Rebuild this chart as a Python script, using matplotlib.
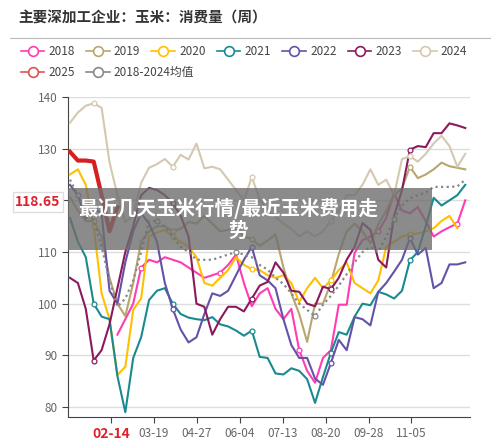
import numpy as np
import matplotlib
matplotlib.use("Agg")
import matplotlib.pyplot as plt
from matplotlib.lines import Line2D
from matplotlib.patches import Rectangle

plt.rcParams['font.family'] = ['Noto Sans CJK SC', 'DejaVu Sans']

s2018 = [94,97,100,107,108.5,108,109,108.5,108,107,106,105,105.5,106,107.5,109.5,104,99.5,102,103,99,97,99,91,87,84.7,89.5,91,99.8,99.8,109.8,112.3,113,114,116.6,121.4,118,117.5,118.7,116,113,114,114.8,115.5,120]
s2018_start = 6
s2019 = [120.6,118,116,116,113,105,100,97.6,104,112,114,115,115,114,114.5,115.8,115.5,117,115.5,114,114.3,114.6,113,112.5,111.2,112.2,113.4,107,102,98,92.6,100,100,104,109.6,114,115.5,114,111.7,115.4,118,121,122.3,126.5,124.3,125,126,127.3,126.6,126.3,126]
s2020 = [125,126,123,115,102,97,86.2,87.8,98.8,101,113,113.8,114.3,113,112,111,109,104,103.5,105,106.5,109,107.5,106.7,106.5,105.5,105,105.5,104,100.3,103,105,103,104.5,106.5,108,104,103,102,104.5,111,112,113,113.4,113.6,114,114.6,116,117,114.6]
s2021 = [116.6,112,109,100,97.5,97,86,79,89.5,93.5,100.7,102.5,103,100,98,97.3,97,96.8,97.4,96,95.6,94.8,93.8,94.8,89.7,89.5,86.5,86.3,87.5,87,85.4,80.8,85.8,90.5,94.5,94,97.5,100,99.7,102.3,101.8,101,102.5,108.4,110,115,120.5,119,120,121,123]
s2022 = [123,121,116.5,118.5,117.5,102.5,100,108,114,117.5,115.5,112,104,99,95,92.5,93.5,98,102,101.5,102.5,105.5,108.5,111,105.5,104.5,103,97,92,89.5,89.5,85.5,84.3,88.5,93,91,97.4,97,95.8,102.3,104,106.2,108.5,112.7,109.5,110.8,103,104,107.6,107.6,108]
s2023 = [105,104,99,89,91,96,103,110,115,121,122.4,122,121,119.5,117,113,100,99.4,94,97,99.4,99.4,98.5,101,103.5,104.2,108,106,102.5,102.3,100,99.5,103.3,102.8,105,108.5,111,115.6,114.3,108.5,107,117,122,129.8,130.5,130.3,133,133,134.9,134.5,134]
s2024 = [135,137,138.3,138.8,137.9,127.4,121,115.8,117,123.4,126.3,127,128,126.5,128.8,127.9,131,126.2,126.5,126,124,122,120,124.5,120.2,118,116.8,115.5,114.5,113,114,113,114,116,118,121,121,123,126,123,124,121,128,128.5,127.5,129,131,132.5,130.5,126.5,129]
s2025 = [129.4,127.7,127.7,127.5,121,114,118.65]
savg = [124,121,118.3,116,111,104.5,99.4,101,104.5,110,116,116,115,113,111,110,108.5,108.5,108.5,109,109.5,110,109.5,109,107.5,106.6,105,103.8,102,100,98.8,97.6,99.8,101.5,103.5,105.7,108,110,111,110,113,116.4,119,120.4,121,121.5,122.6,122.6,122.6,122.7,124]

tick_labels = ['02-14','03-19','04-27','06-04','07-13','08-20','09-28','11-05']
yticks = [80, 90, 100, 110, 120, 130, 140]

fig = plt.figure(figsize=(5, 4.41), dpi=100)
ax = fig.add_axes([68/500, 24/441, 402/500, 320/441])

series = [
    ('2018', '#ff3cb4', s2018, s2018_start),
    ('2019', '#b8a670', s2019, 0),
    ('2020', '#ffc000', s2020, 0),
    ('2021', '#1a8a90', s2021, 0),
    ('2022', '#6452a8', s2022, 0),
    ('2023', '#8b1a5c', s2023, 0),
    ('2024', '#d5c8b0', s2024, 0),
]
for name, col, vals, st in series:
    w = np.arange(st, st + len(vals))
    ax.plot(w, vals, color=col, lw=1.5, marker='o', markersize=3.5, markerfacecolor='white',
            markeredgewidth=0.9, markevery=list(range(3, len(vals), 10)), zorder=3)
w = np.arange(len(savg))
ax.plot(w, savg, color='#888888', lw=1.6, ls=(0, (1, 1.5)), marker='o', markersize=3.5,
        markerfacecolor='white', markeredgewidth=0.9, markevery=list(range(1, len(savg), 10)), zorder=3)
w = np.arange(len(s2025))
ax.plot(w, s2025, color='#d42020', lw=3, zorder=4)

ax.set_xlim(-0.25, 50.6)
ax.set_ylim(78.07, 140)
ax.set_yticks(yticks)
ax.set_xticks([5.19 + 5.43 * k for k in range(len(tick_labels))])
ax.set_xticklabels(tick_labels)
ax.tick_params(colors='#666666', labelsize=8.5, length=4, color='#444444')
for lab in ax.get_xticklabels():
    lab.set_color('#666666')
first = ax.get_xticklabels()[0]
first.set_color('#e0202a'); first.set_fontweight('bold'); first.set_fontsize(10)
ax.grid(axis='y', color='#dddddd', lw=1)
ax.set_axisbelow(True)
for sp in ['top', 'right']:
    ax.spines[sp].set_visible(False)
ax.spines['left'].set_color('#444444')
ax.spines['bottom'].set_color('#444444')

fig.text(18/500, 1 - 18/441, '主要深加工企业：玉米：消费量（周）', fontsize=10.5, fontweight='bold',
         color='#333333', va='center', ha='left')
fig.add_artist(Line2D([10/500, 490/500], [1 - 38/441, 1 - 38/441], color='#bbbbbb', lw=0.8))

names = ['2018','2019','2020','2021','2022','2023','2024','2025','2018-2024均值']
cols = ['#ff3cb4','#b8a670','#ffc000','#1a8a90','#6452a8','#8b1a5c','#d5c8b0','#e05050','#888888']
handles = [Line2D([], [], color=c, lw=1.2, marker='o', markersize=7,
                  markerfacecolor='white', markeredgewidth=1.2) for c in cols]
kw = dict(loc='upper left', frameon=False, fontsize=8.5, handlelength=2.0, handletextpad=0.35,
          columnspacing=0.95, borderaxespad=0)
leg1 = fig.legend(handles[:7], names[:7], bbox_to_anchor=(16/500, 1 - 40/441), ncol=7, **kw)
leg2 = fig.legend(handles[7:], names[7:], bbox_to_anchor=(16/500, 1 - 61/441), ncol=2, **kw)
for leg in (leg1, leg2):
    for t in leg.get_texts():
        t.set_color('#444444')

fig.add_artist(Rectangle((68/500, 1 - 250/441), 364/500, 62/441, transform=fig.transFigure,
                         facecolor='#6e6e6e', alpha=0.8, edgecolor='none', zorder=10))
fig.text(78/500, 1 - 208/441, '最近几天玉米行情/最近玉米费用走', fontsize=14, fontweight='bold',
         color='white', ha='left', va='center', zorder=11)
fig.text(238/500, 1 - 231/441, '势', fontsize=14, fontweight='bold',
         color='white', ha='center', va='center', zorder=11)

fig.text(38/500, 1 - 202/441, '118.65', fontsize=10, fontweight='bold', color='#e0202a',
         ha='center', va='center', zorder=9,
         bbox=dict(facecolor='white', edgecolor='#dddddd', boxstyle='square,pad=0.2'))

fig.savefig('out.png', dpi=100)
